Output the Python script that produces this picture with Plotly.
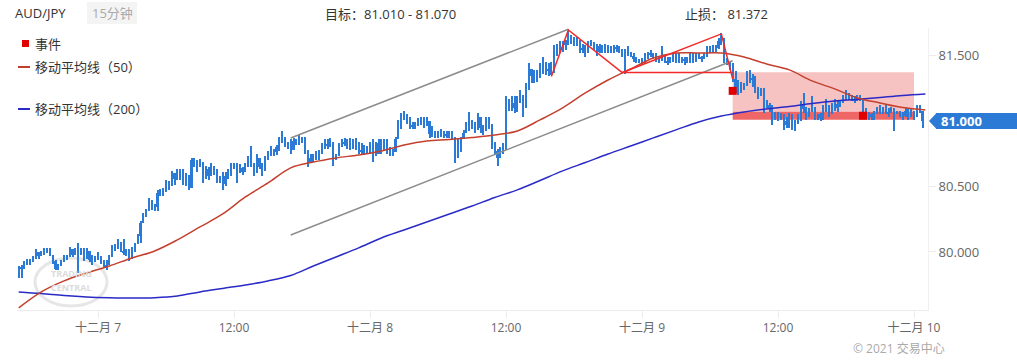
import pandas as pd
import plotly.graph_objects as go

# ---------------- data (AUD/JPY, 15-minute bars) ----------------
first_open = 79.82
high = [
    79.89, 79.90, 79.93, 79.95, 79.95, 79.97, 80.02, 80.00, 80.01, 80.03,
    80.03, 80.03, 79.98, 79.94, 79.91, 79.94, 79.98, 79.98, 80.04, 80.00,
    80.03, 80.07, 80.03, 80.03, 80.03, 80.00, 79.98, 79.97, 80.00, 79.97,
    79.94, 79.94, 79.98, 80.05, 80.06, 80.10, 80.07, 80.10, 80.02, 80.02,
    80.04, 80.07, 80.14, 80.24, 80.30, 80.33, 80.41, 80.40, 80.37, 80.47,
    80.48, 80.49, 80.55, 80.54, 80.62, 80.59, 80.63, 80.63, 80.63, 80.60,
    80.59, 80.72, 80.72, 80.70, 80.71, 80.68, 80.66, 80.65, 80.68, 80.65,
    80.63, 80.58, 80.61, 80.61, 80.63, 80.68, 80.68, 80.68, 80.67, 80.65,
    80.68, 80.73, 80.81, 80.68, 80.75, 80.68, 80.68, 80.73, 80.77, 80.81,
    80.79, 80.82, 80.88, 80.92, 80.88, 80.84, 80.86, 80.87, 80.86, 80.89,
    80.88, 80.88, 80.78, 80.75, 80.75, 80.77, 80.78, 80.83, 80.86, 80.86,
    80.87, 80.80, 80.75, 80.83, 80.86, 80.87, 80.86, 80.87, 80.86, 80.87,
    80.84, 80.83, 80.82, 80.81, 80.84, 80.86, 80.78, 80.86, 80.86, 80.86,
    80.86, 80.80, 80.79, 80.88, 81.01, 81.06, 81.08, 81.05, 81.03, 80.99,
    80.99, 81.02, 81.03, 81.03, 81.03, 80.99, 80.96, 80.92, 80.92, 80.94,
    80.92, 80.92, 80.92, 80.92, 80.87, 80.86, 80.88, 80.93, 80.99, 81.07,
    81.01, 80.99, 81.06, 80.99, 80.97, 81.03, 81.03, 80.98, 80.84, 80.79,
    80.80, 80.83, 81.19, 81.17, 81.19, 81.19, 81.19, 81.24, 81.20, 81.29,
    81.44, 81.39, 81.39, 81.39, 81.44, 81.49, 81.45, 81.44, 81.45, 81.58,
    81.59, 81.61, 81.61, 81.62, 81.69, 81.66, 81.64, 81.64, 81.59, 81.59,
    81.58, 81.61, 81.62, 81.59, 81.59, 81.59, 81.58, 81.59, 81.58, 81.57,
    81.58, 81.58, 81.57, 81.55, 81.55, 81.57, 81.53, 81.52, 81.49, 81.47,
    81.48, 81.52, 81.53, 81.54, 81.52, 81.52, 81.50, 81.57, 81.50, 81.49,
    81.49, 81.52, 81.52, 81.52, 81.49, 81.49, 81.49, 81.52, 81.52, 81.52,
    81.52, 81.50, 81.52, 81.57, 81.57, 81.58, 81.58, 81.63, 81.67, 81.53,
    81.48, 81.45, 81.44, 81.38, 81.31, 81.30, 81.29, 81.38, 81.39, 81.36,
    81.34, 81.26, 81.25, 81.25, 81.16, 81.14, 81.12, 81.07, 81.07, 81.06,
    81.05, 81.03, 81.06, 81.05, 81.01, 81.05, 81.15, 81.21, 81.11, 81.10,
    81.19, 81.11, 81.05, 81.06, 81.12, 81.17, 81.12, 81.14, 81.17, 81.15,
    81.16, 81.20, 81.24, 81.21, 81.20, 81.19, 81.20, 81.20, 81.17, 81.10,
    81.07, 81.06, 81.08, 81.11, 81.12, 81.11, 81.12, 81.10, 81.11, 81.10,
    81.08, 81.08, 81.07, 81.10, 81.10, 81.10, 81.08, 81.12, 81.12, 81.05,
]
low = [
    79.80, 79.80, 79.87, 79.90, 79.90, 79.92, 79.95, 79.95, 79.97, 79.98,
    79.99, 79.97, 79.91, 79.86, 79.86, 79.89, 79.93, 79.94, 79.98, 79.96,
    79.98, 79.84, 79.98, 79.93, 79.96, 79.92, 79.90, 79.92, 79.94, 79.91,
    79.88, 79.86, 79.91, 79.98, 80.01, 80.02, 80.00, 79.98, 79.97, 79.93,
    79.98, 80.00, 80.07, 80.07, 80.23, 80.27, 80.33, 80.32, 80.31, 80.31,
    80.43, 80.43, 80.46, 80.47, 80.51, 80.51, 80.55, 80.55, 80.51, 80.50,
    80.47, 80.56, 80.65, 80.61, 80.65, 80.53, 80.58, 80.55, 80.61, 80.59,
    80.53, 80.53, 80.47, 80.50, 80.56, 80.58, 80.63, 80.53, 80.61, 80.59,
    80.63, 80.65, 80.65, 80.58, 80.61, 80.63, 80.58, 80.65, 80.72, 80.73,
    80.73, 80.74, 80.77, 80.83, 80.80, 80.79, 80.75, 80.79, 80.82, 80.82,
    80.83, 80.75, 80.65, 80.68, 80.69, 80.70, 80.70, 80.75, 80.79, 80.79,
    80.80, 80.66, 80.70, 80.77, 80.80, 80.81, 80.79, 80.78, 80.79, 80.78,
    80.75, 80.74, 80.74, 80.75, 80.75, 80.69, 80.73, 80.75, 80.75, 80.78,
    80.75, 80.73, 80.73, 80.79, 80.87, 80.94, 81.01, 80.98, 80.94, 80.94,
    80.94, 80.96, 80.97, 80.95, 80.96, 80.87, 80.88, 80.87, 80.87, 80.88,
    80.87, 80.87, 80.87, 80.86, 80.68, 80.72, 80.79, 80.87, 80.91, 80.92,
    80.94, 80.91, 80.96, 80.91, 80.89, 80.94, 80.94, 80.79, 80.74, 80.66,
    80.75, 80.75, 80.78, 81.08, 81.08, 81.06, 81.07, 81.14, 81.03, 81.11,
    81.24, 81.29, 81.29, 81.30, 81.33, 81.36, 81.35, 81.34, 81.35, 81.44,
    81.50, 81.52, 81.53, 81.54, 81.58, 81.59, 81.57, 81.57, 81.52, 81.52,
    81.49, 81.52, 81.57, 81.54, 81.50, 81.52, 81.52, 81.52, 81.52, 81.52,
    81.52, 81.53, 81.52, 81.49, 81.36, 81.50, 81.49, 81.45, 81.44, 81.44,
    81.43, 81.44, 81.47, 81.49, 81.48, 81.45, 81.44, 81.47, 81.44, 81.43,
    81.44, 81.45, 81.44, 81.44, 81.44, 81.43, 81.44, 81.44, 81.44, 81.45,
    81.47, 81.45, 81.47, 81.49, 81.52, 81.52, 81.53, 81.55, 81.58, 81.44,
    81.43, 81.39, 81.30, 81.21, 81.20, 81.21, 81.24, 81.29, 81.29, 81.26,
    81.21, 81.17, 81.19, 81.06, 81.10, 81.07, 80.97, 81.01, 81.00, 81.01,
    80.93, 80.95, 80.95, 80.93, 80.92, 81.00, 81.00, 81.06, 81.01, 81.03,
    81.07, 81.01, 81.01, 81.00, 81.01, 81.07, 81.03, 81.05, 81.08, 81.07,
    81.11, 81.14, 81.16, 81.16, 81.15, 81.14, 81.15, 81.15, 81.07, 81.02,
    81.01, 81.01, 81.01, 81.05, 81.05, 81.05, 81.05, 81.03, 81.06, 80.92,
    81.05, 81.03, 81.01, 81.03, 81.01, 81.03, 81.01, 81.05, 81.06, 80.95,
]
close = [
    79.87, 79.88, 79.92, 79.94, 79.93, 79.95, 80.00, 79.97, 80.00, 80.02,
    80.01, 79.98, 79.93, 79.87, 79.90, 79.92, 79.97, 79.96, 80.02, 79.98,
    80.02, 79.99, 80.02, 79.95, 80.01, 79.94, 79.92, 79.95, 79.97, 79.93,
    79.89, 79.90, 79.96, 80.03, 80.04, 80.08, 80.01, 79.99, 79.98, 79.95,
    80.02, 80.06, 80.12, 80.22, 80.28, 80.31, 80.39, 80.35, 80.34, 80.45,
    80.46, 80.48, 80.53, 80.50, 80.60, 80.56, 80.60, 80.58, 80.53, 80.52,
    80.49, 80.70, 80.67, 80.66, 80.69, 80.56, 80.63, 80.58, 80.66, 80.62,
    80.55, 80.56, 80.52, 80.58, 80.61, 80.66, 80.65, 80.60, 80.64, 80.61,
    80.66, 80.71, 80.68, 80.60, 80.72, 80.65, 80.62, 80.70, 80.75, 80.78,
    80.76, 80.80, 80.85, 80.88, 80.83, 80.80, 80.78, 80.85, 80.84, 80.87,
    80.85, 80.77, 80.68, 80.72, 80.71, 80.74, 80.76, 80.80, 80.82, 80.81,
    80.84, 80.70, 80.73, 80.80, 80.84, 80.83, 80.81, 80.80, 80.82, 80.80,
    80.78, 80.77, 80.79, 80.78, 80.82, 80.84, 80.75, 80.83, 80.78, 80.81,
    80.78, 80.75, 80.76, 80.86, 80.98, 81.03, 81.05, 81.00, 80.96, 80.97,
    80.98, 81.00, 81.01, 80.98, 81.00, 80.90, 80.92, 80.89, 80.90, 80.92,
    80.89, 80.90, 80.89, 80.88, 80.80, 80.76, 80.86, 80.91, 80.96, 80.98,
    80.97, 80.93, 81.03, 80.95, 80.92, 81.00, 80.96, 80.84, 80.77, 80.72,
    80.78, 80.81, 81.12, 81.12, 81.10, 81.14, 81.16, 81.20, 81.10, 81.26,
    81.40, 81.34, 81.36, 81.33, 81.40, 81.45, 81.38, 81.40, 81.37, 81.55,
    81.56, 81.58, 81.58, 81.60, 81.65, 81.62, 81.59, 81.62, 81.54, 81.56,
    81.52, 81.58, 81.60, 81.56, 81.53, 81.57, 81.55, 81.57, 81.54, 81.55,
    81.56, 81.55, 81.53, 81.51, 81.50, 81.53, 81.50, 81.47, 81.46, 81.45,
    81.46, 81.50, 81.51, 81.52, 81.49, 81.47, 81.46, 81.50, 81.46, 81.45,
    81.47, 81.50, 81.46, 81.48, 81.46, 81.47, 81.46, 81.49, 81.47, 81.50,
    81.49, 81.48, 81.50, 81.55, 81.55, 81.57, 81.56, 81.61, 81.63, 81.47,
    81.45, 81.41, 81.32, 81.26, 81.22, 81.27, 81.27, 81.36, 81.31, 81.33,
    81.23, 81.19, 81.23, 81.10, 81.12, 81.09, 81.03, 81.05, 81.02, 81.04,
    80.97, 81.00, 80.98, 80.96, 80.98, 81.03, 81.12, 81.09, 81.04, 81.08,
    81.10, 81.03, 81.02, 81.05, 81.10, 81.09, 81.07, 81.12, 81.10, 81.13,
    81.14, 81.18, 81.21, 81.18, 81.17, 81.16, 81.18, 81.16, 81.09, 81.04,
    81.03, 81.05, 81.06, 81.09, 81.07, 81.09, 81.07, 81.06, 81.08, 81.06,
    81.07, 81.05, 81.04, 81.08, 81.08, 81.05, 81.03, 81.10, 81.08, 81.00,
]

# moving averages read every 2 hours
ma50 = [79.573, 79.695, 79.779, 79.840, 79.893, 79.954, 80.008, 80.092, 80.191, 80.290,
        80.420, 80.527, 80.642, 80.687, 80.718, 80.741, 80.771, 80.817, 80.848, 80.859,
        80.874, 80.893, 80.924, 81.008, 81.100, 81.214, 81.313, 81.397, 81.481, 81.519,
        81.519, 81.519, 81.489, 81.435, 81.390, 81.306, 81.245, 81.176, 81.138, 81.103,
        81.084]
ma200 = [79.695, 79.683, 79.668, 79.657, 79.651, 79.648, 79.651, 79.664, 79.695, 79.722,
         79.748, 79.779, 79.821, 79.893, 79.962, 80.031, 80.107, 80.168, 80.229, 80.290,
         80.351, 80.416, 80.474, 80.546, 80.619, 80.683, 80.748, 80.809, 80.871, 80.932,
         80.993, 81.038, 81.069, 81.092, 81.111, 81.134, 81.153, 81.165, 81.180, 81.195,
         81.206]

# analyst drawings
channel_upper_t = ["2021-12-07 17:00", "2021-12-08 17:30"]
channel_upper_p = [80.87, 81.70]
channel_lower_t = ["2021-12-07 17:00", "2021-12-09 08:00"]
channel_lower_p = [80.13, 81.46]
pattern_t = ["2021-12-08 16:00", "2021-12-08 17:30", "2021-12-08 22:15", "2021-12-09 07:00", "2021-12-09 08:00"]
pattern_p = [81.34, 81.695, 81.37, 81.665, 81.32]
neck_t = ["2021-12-08 22:15", "2021-12-09 08:00"]
neck_p = [81.37, 81.37]
zone_t = ["2021-12-09 08:00", "2021-12-10 00:00"]
stop_level = 81.372
target_low, target_high = 81.010, 81.070
event_t = ["2021-12-09 08:00", "2021-12-09 19:30"]
event_p = [81.23, 81.04]
last_price = 81.000

tick_times = ["2021-12-07 00:00", "2021-12-07 12:00", "2021-12-08 00:00", "2021-12-08 12:00",
              "2021-12-09 00:00", "2021-12-09 12:00", "2021-12-10 00:00"]
tick_text = ["十二月 7", "12:00", "十二月 8", "12:00", "十二月 9", "12:00", "十二月 10"]
y_ticks = [80.0, 80.5, 81.5]
y_ticktext = ["80.000", "80.500", "81.500"]

# ---------------- figure ----------------
times = pd.date_range("2021-12-06 17:00", periods=len(close), freq="15min")
ma_times = pd.date_range("2021-12-06 17:00", periods=len(ma50), freq="2h")
open_ = [first_open] + close[:-1]
hi = [max(h, o, c) for h, o, c in zip(high, open_, close)]
lo = [min(l, o, c) for l, o, c in zip(low, open_, close)]
body_base = [min(o, c) for o, c in zip(open_, close)]
body_len = [abs(c - o) for o, c in zip(open_, close)]
wick_len = [h - l for h, l in zip(hi, lo)]

W, H = 1017, 364
PL, PR, PT, PB = 17, 928, 28, 310   # plot area in pixels


def px(x):
    return (x - PL) / (PR - PL)


def py(y):
    return (PB - y) / (PB - PT)


YMIN, YMAX = 79.557, 81.710
BLUE = "#2b7bd6"
FONT = '"Open Sans", "Noto Sans CJK SC", sans-serif'
BAR_MS = 15 * 60 * 1000
px_per_bar = (PR - PL) / (80.383 * 4)

fig = go.Figure()
fig.add_trace(go.Bar(x=times, y=wick_len, base=lo, width=BAR_MS * 1.0 / px_per_bar,
                     marker=dict(color=BLUE, line=dict(width=0)), hoverinfo="skip"))
fig.add_trace(go.Bar(x=times, y=body_len, base=body_base, width=BAR_MS * 2.2 / px_per_bar,
                     marker=dict(color=BLUE, line=dict(width=0)), hoverinfo="skip"))

fig.add_trace(go.Scatter(x=ma_times, y=ma200, mode="lines",
                         line=dict(color="#2a2ac6", width=1.5, shape="spline"), hoverinfo="skip"))
fig.add_trace(go.Scatter(x=ma_times, y=ma50, mode="lines",
                         line=dict(color="#c4402e", width=1.5, shape="spline"), hoverinfo="skip"))

for tx, ty in ((channel_upper_t, channel_upper_p), (channel_lower_t, channel_lower_p)):
    fig.add_trace(go.Scatter(x=tx, y=ty, mode="lines", line=dict(color="#8c8c8c", width=1.5),
                             hoverinfo="skip"))
fig.add_trace(go.Scatter(x=pattern_t, y=pattern_p, mode="lines", line=dict(color="#f22a2a", width=1.5),
                         hoverinfo="skip"))
fig.add_trace(go.Scatter(x=neck_t, y=neck_p, mode="lines", line=dict(color="#f22a2a", width=1.5),
                         hoverinfo="skip"))
fig.add_trace(go.Scatter(x=event_t, y=event_p, mode="markers",
                         marker=dict(symbol="square", size=8, color="#e00000", line=dict(width=0)),
                         hoverinfo="skip"))

shapes = [
    dict(type="rect", xref="x", yref="y", x0=zone_t[0], x1=zone_t[1], y0=target_high, y1=stop_level,
         fillcolor="#f6c2c2", line=dict(width=0), layer="below"),
    dict(type="rect", xref="x", yref="y", x0=zone_t[0], x1=zone_t[1], y0=target_low, y1=target_high,
         fillcolor="#ef6666", line=dict(width=0), layer="below"),
    # watermark
    dict(type="circle", xref="paper", yref="paper", x0=px(35), x1=px(107), y0=py(306), y1=py(258),
         line=dict(color="#e6e6e6", width=3), layer="below"),
    # timeframe badge
    dict(type="rect", xref="paper", yref="paper", x0=px(87), x1=px(137), y0=py(24), y1=py(2),
         fillcolor="#f4f4f4", line=dict(width=0)),
    # legend keys
    dict(type="rect", xref="paper", yref="paper", x0=px(22), x1=px(29), y0=py(47), y1=py(40),
         fillcolor="#e00000", line=dict(width=0)),
    dict(type="line", xref="paper", yref="paper", x0=px(18), x1=px(30), y0=py(67), y1=py(67),
         line=dict(color="#c4402e", width=2)),
    dict(type="line", xref="paper", yref="paper", x0=px(18), x1=px(30), y0=py(109), y1=py(109),
         line=dict(color="#2a2ac6", width=2)),
]
# last-price flag
dy = 8 * (YMAX - YMIN) / (PB - PT)
shapes.append(dict(type="rect", xref="paper", yref="y", x0=px(936), x1=px(1017),
                   y0=last_price - dy, y1=last_price + dy, fillcolor=BLUE, line=dict(width=0)))
shapes.append(dict(type="path", xref="paper", yref="y",
                   path=f"M {px(929)},{last_price} L {px(936.5)},{last_price + dy} L {px(936.5)},{last_price - dy} Z",
                   fillcolor=BLUE, line=dict(width=0)))

ann = [
    dict(text="AUD/JPY", x=px(13), y=py(13), xanchor="left", font=dict(size=13, color="#333333")),
    dict(text="15分钟", x=px(112), y=py(13), xanchor="center", font=dict(size=13, color="#aaaaaa")),
    dict(text="目标：81.010 - 81.070", x=px(323), y=py(14), xanchor="left", font=dict(size=13, color="#333333")),
    dict(text="止损： 81.372", x=px(683), y=py(14), xanchor="left", font=dict(size=13, color="#333333")),
    dict(text="事件", x=px(33), y=py(43.5), xanchor="left", font=dict(size=13, color="#333333")),
    dict(text="移动平均线（50）", x=px(33), y=py(67), xanchor="left", font=dict(size=13, color="#333333")),
    dict(text="移动平均线（200）", x=px(33), y=py(109), xanchor="left", font=dict(size=13, color="#333333")),
    dict(text="<b>TRADING</b>", x=px(71), y=py(273), xanchor="center", font=dict(size=9, color="#dcdcdc")),
    dict(text="<b>CENTRAL</b>", x=px(71), y=py(287), xanchor="center", font=dict(size=9, color="#dcdcdc")),
    dict(text="© 2021 交易中心", x=px(899), y=py(348), xanchor="center", font=dict(size=12, color="#aaaaaa")),
]
annotations = [dict(a, xref="paper", yref="paper", yanchor="middle", showarrow=False) for a in ann]
annotations.append(dict(text="<b>81.000</b>", xref="paper", yref="y", x=px(939), y=last_price,
                        xanchor="left", yanchor="middle", showarrow=False,
                        font=dict(size=13, color="white")))

fig.update_layout(
    width=W, height=H,
    margin=dict(l=PL, r=W - PR, t=PT, b=H - PB, pad=0),
    paper_bgcolor="white", plot_bgcolor="white",
    font=dict(family=FONT, size=12, color="#666666"),
    showlegend=False, barmode="overlay", bargap=0,
    shapes=shapes,
    annotations=annotations,
    xaxis=dict(type="date", range=["2021-12-06 16:51", "2021-12-10 01:14"],
               tickvals=tick_times, ticktext=tick_text, tickangle=0,
               showgrid=False, zeroline=False, showline=True, linecolor="#ececec", linewidth=1,
               ticks="outside", ticklen=7, tickcolor="#ececec",
               tickfont=dict(size=12, color="#666666")),
    yaxis=dict(side="right", range=[YMIN, YMAX], tickvals=y_ticks, ticktext=y_ticktext,
               showgrid=False, zeroline=False, showline=True, linecolor="#f0f0f0", linewidth=1,
               ticks="outside", ticklen=7, tickcolor="#ececec",
               tickfont=dict(size=13, color="#666666")),
)

fig.write_html("out.html", config={"displayModeBar": False},
               post_script="document.body.style.margin='0px';")
